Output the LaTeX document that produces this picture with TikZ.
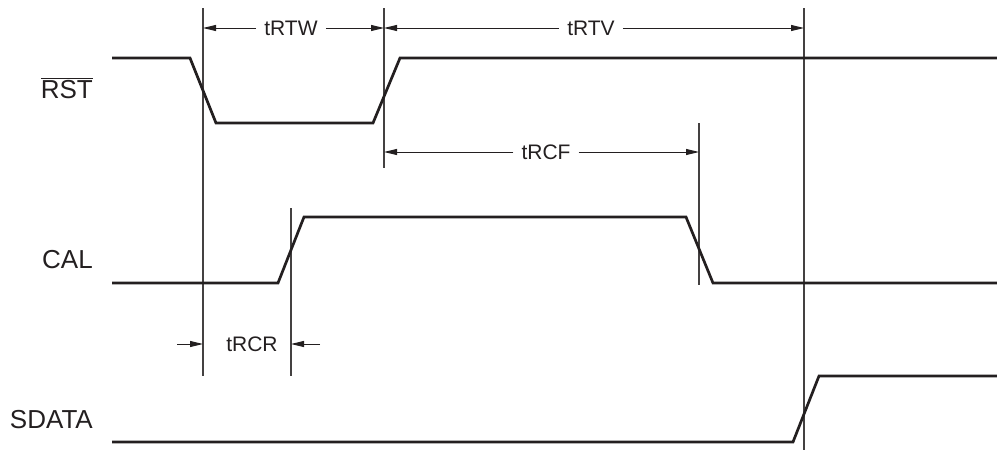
\documentclass[tikz,border=0pt]{standalone}
\usepackage{fontspec}
\setmainfont{Liberation Sans}
\usetikzlibrary{arrows.meta}
\definecolor{ink}{HTML}{231F20}
\begin{document}
\begin{tikzpicture}[x=1pt,y=-1pt,
  sig/.style={line width=2.7pt, draw=ink, line join=miter},
  guide/.style={line width=1.1pt, draw=ink!85},
  dim/.style={line width=1pt, draw=ink, -{Triangle[length=13pt,width=6pt]}},
  siglab/.style={font=\fontsize{26}{30}\selectfont, text=ink, anchor=base east, inner sep=0pt},
  tlab/.style={font=\fontsize{21}{25}\selectfont, text=ink, inner xsep=8pt, inner ysep=0pt}]
\useasboundingbox (0,0) rectangle (997,450);

% guide lines
\coordinate (v1t) at (203,8);   \coordinate (v1b) at (203,376);
\coordinate (v2t) at (384,8);   \coordinate (v2b) at (384,168);
\coordinate (v3t) at (804,8);   \coordinate (v3b) at (804,450);
\coordinate (v4t) at (699,123); \coordinate (v4b) at (699,285);
\coordinate (v5t) at (291,208); \coordinate (v5b) at (291,376);
\draw[guide] (v1t) -- (v1b);
\draw[guide] (v2t) -- (v2b);
\draw[guide] (v3t) -- (v3b);
\draw[guide] (v4t) -- (v4b);
\draw[guide] (v5t) -- (v5b);

% waveforms
\draw[sig] (112,58) -- (190,58) -- (216,123) -- (373,123) -- (400,58) -- (997,58);
\draw[sig] (112,283) -- (278,283) -- (304,217) -- (686,217) -- (713,283) -- (997,283);
\draw[sig] (112,442) -- (793,442) -- (819,376) -- (997,376);

% signal labels
\node[siglab] (rst) at (93,98) {$\overline{\mbox{RST}}$};
\node[siglab] (cal) at (93,268) {CAL};
\node[siglab] (sdata) at (93,428) {SDATA};

% timing labels and dimension arrows
\node[tlab] (trtw) at (291,28) {tRTW};
\draw[dim] (trtw.west) -- (trtw.west -| v1t);
\draw[dim] (trtw.east) -- (trtw.east -| v2t);

\node[tlab] (trtv) at (591,28) {tRTV};
\draw[dim] (trtv.west) -- (trtv.west -| v2t);
\draw[dim] (trtv.east) -- (trtv.east -| v3t);

\node[tlab] (trcf) at (546,152) {tRCF};
\draw[dim] (trcf.west) -- (trcf.west -| v2t);
\draw[dim] (trcf.east) -- (trcf.east -| v4t);

\node[tlab] (trcr) at (252,344) {tRCR};
\coordinate (ra) at (177,344);
\coordinate (rb) at (320,344);
\draw[dim] (ra) -- (ra -| v1t);
\draw[dim] (rb) -- (rb -| v5t);
\end{tikzpicture}
\end{document}
